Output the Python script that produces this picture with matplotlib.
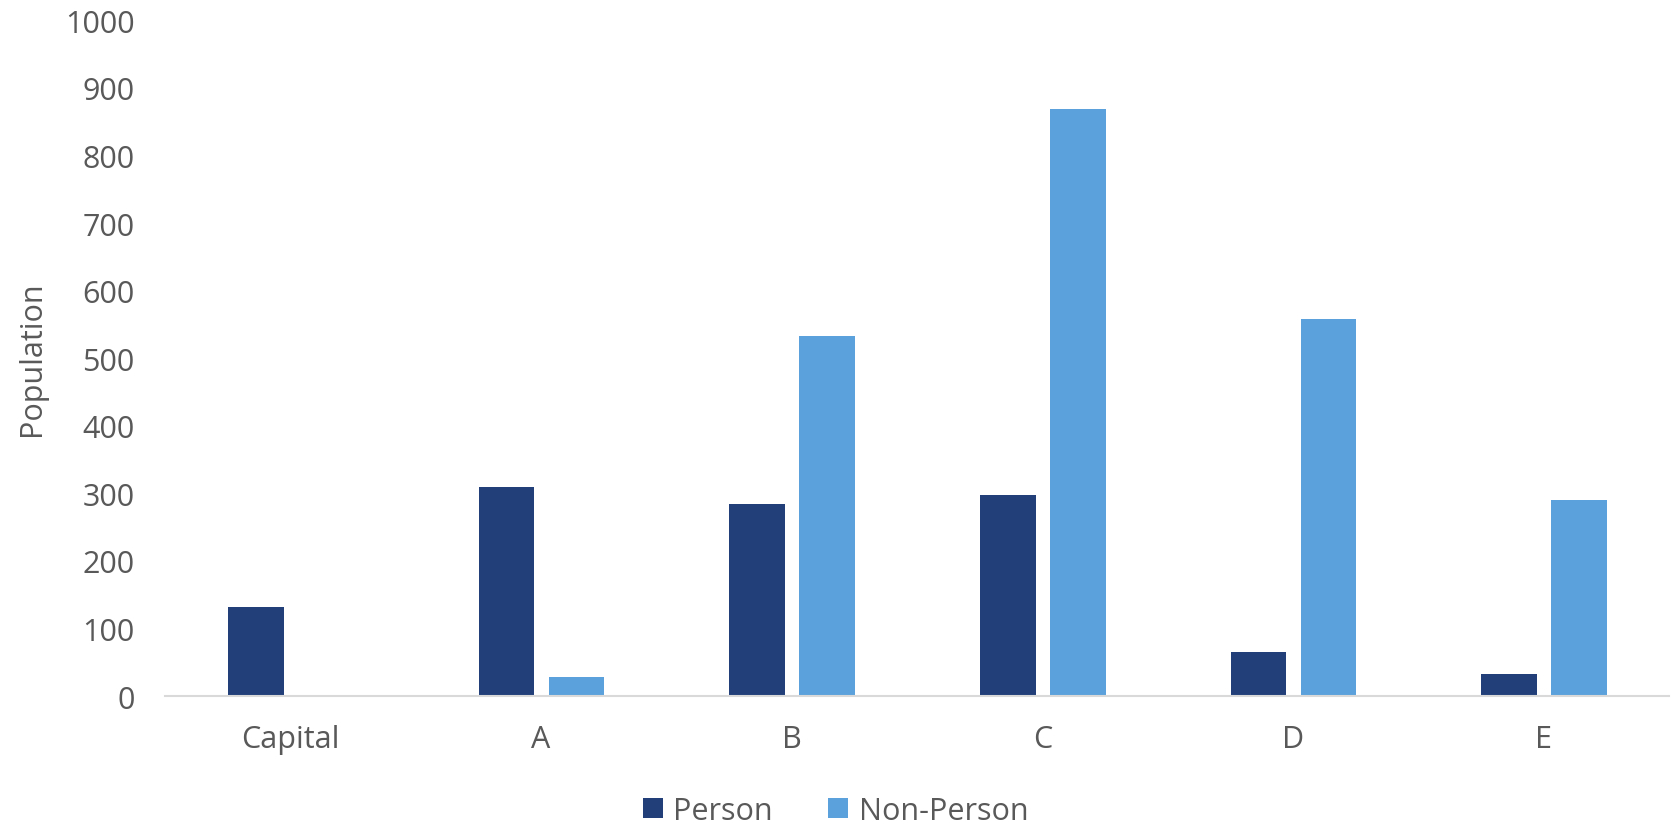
import numpy as np
import matplotlib.pyplot as plt

categories = ['Capital', 'A', 'B', 'C', 'D', 'E']
person = [132, 309, 284, 298, 65, 33]
non_person = [0, 28, 533, 869, 558, 290]
yticks = [0, 100, 200, 300, 400, 500, 600, 700, 800, 900, 1000]

plt.rcParams['font.family'] = ['Open Sans', 'DejaVu Sans']
grey = '#595959'

fig = plt.figure(figsize=(16.71, 8.29), dpi=100)
ax = fig.add_axes([0.0988, 0.1592, 0.9, 0.8151])

x = np.arange(len(categories))
w = 0.222
ax.bar(x - 0.138, person, w, color='#223F7A', label='Person')
ax.bar(x + 0.141, non_person, w, color='#5BA1DB', label='Non-Person')

ax.set_xlim(-0.5, len(categories) - 0.5)
ax.set_ylim(0, 1000)
ax.set_yticks(yticks)
ax.set_xticks(x)
ax.set_xticklabels(categories)
ax.tick_params(axis='both', length=0, labelsize=22, colors=grey)
ax.tick_params(axis='x', pad=20)
ax.tick_params(axis='y', pad=22)

for s in ['top', 'right', 'left']:
    ax.spines[s].set_visible(False)
ax.spines['bottom'].set_color('#D9D9D9')
ax.spines['bottom'].set_linewidth(1.5)

ax.set_ylabel('Population', fontsize=22, color=grey, labelpad=13)

# legend sits at the figure centre, not the axes centre
fig.legend(loc='center', bbox_to_anchor=(0.5, 0.0205), ncol=2, frameon=False,
           fontsize=22, labelcolor=grey, handlelength=0.65, handleheight=0.65,
           columnspacing=1.8, handletextpad=0.35)

fig.savefig('out.png', dpi=100)
